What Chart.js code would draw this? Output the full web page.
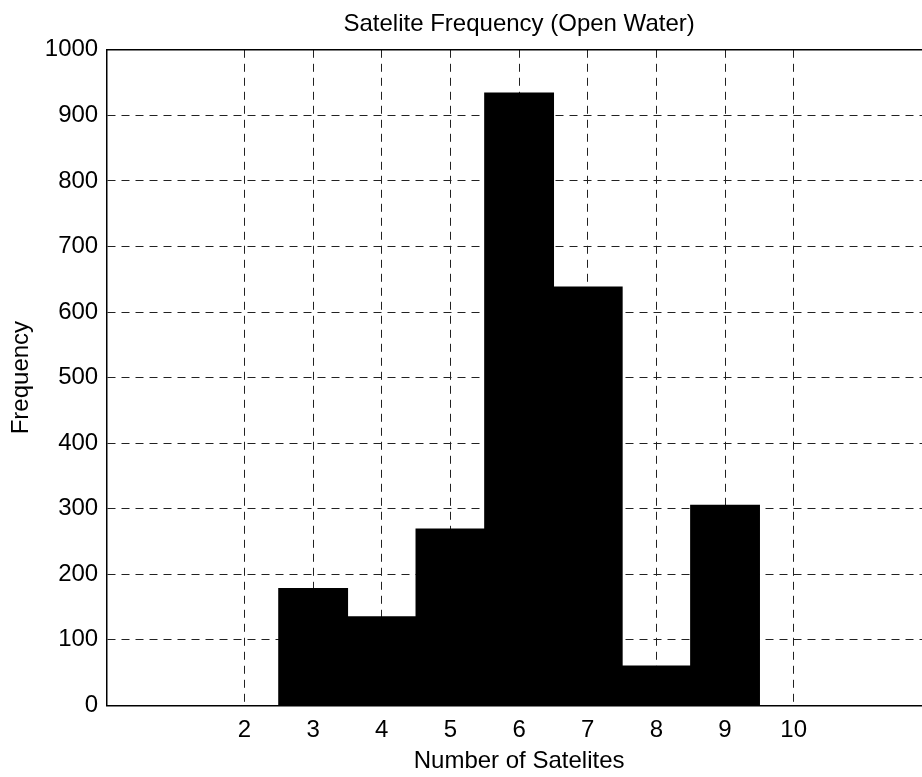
<!DOCTYPE html>
<html>
<head>
<meta charset="utf-8">
<script src="https://cdn.jsdelivr.net/npm/chart.js@4/dist/chart.umd.min.js"></script>
<style>
  html, body { margin: 0; padding: 0; background: #fff; overflow: hidden; }
  #wrap { width: 940px; height: 777px; }
</style>
</head>
<body>
<div id="wrap"><canvas id="chartSatelites"></canvas></div>
<script>
// datos del histograma
const satelites = [3, 4, 5, 6, 7, 8, 9];
const frecuencias = [178, 135, 269, 934, 638, 60, 305];
const ticksX = [2, 3, 4, 5, 6, 7, 8, 9, 10];
const ticksY = [0, 100, 200, 300, 400, 500, 600, 700, 800, 900, 1000];

const fuente = "'Liberation Sans', Arial, sans-serif";
const negro = '#000';

const context = document.getElementById('chartSatelites').getContext('2d');

const chartSatelites = new Chart(context, {
    type: 'bar',
    data: {
        datasets: [
            {
                label: 'Frequency',
                data: satelites.map((s, i) => ({ x: s, y: frecuencias[i] })),
                backgroundColor: negro,
                borderWidth: 0,
                inflateAmount: 0.6,
                barPercentage: 1,
                categoryPercentage: 1
            }
        ]
    },
    options: {
        responsive: true,
        maintainAspectRatio: false,
        animation: false,
        layout: { padding: { top: 10, right: 9, left: 7, bottom: 1 } },
        plugins: {
            legend: { display: false },
            tooltip: { enabled: false },
            title: {
                display: true,
                text: 'Satelite Frequency (Open Water)',
                fullSize: false,
                color: negro,
                font: { family: fuente, size: 24, weight: 'normal' },
                padding: { top: 0, bottom: 11 }
            }
        },
        scales: {
            x: {
                type: 'linear',
                min: 0,
                max: 12,
                offset: false,
                afterBuildTicks: (scale) => {
                    scale.ticks = ticksX.map(v => ({ value: v }));
                },
                grid: {
                    color: '#222',
                    lineWidth: 1,
                    offset: false,
                    drawTicks: false
                },
                border: { display: true, color: negro, width: 1.5, dash: [8, 6] },
                ticks: {
                    color: negro,
                    font: { family: fuente, size: 24 },
                    padding: 11,
                    maxRotation: 0,
                    autoSkip: false,
                    callback: (v) => String(v)
                },
                title: {
                    display: true,
                    text: 'Number of Satelites',
                    color: negro,
                    font: { family: fuente, size: 24 },
                    padding: { top: -9, bottom: 0 }
                }
            },
            xTop: {
                type: 'linear',
                position: 'top',
                min: 0,
                max: 12,
                grid: { display: false, drawTicks: false },
                ticks: { display: false },
                border: { display: true, color: negro, width: 1.5 }
            },
            y: {
                min: 0,
                max: 1000,
                afterBuildTicks: (scale) => {
                    scale.ticks = ticksY.map(v => ({ value: v }));
                },
                grid: {
                    color: '#222',
                    lineWidth: 1,
                    drawTicks: false
                },
                border: { display: true, color: negro, width: 1.5, dash: [8, 6] },
                ticks: {
                    color: negro,
                    font: { family: fuente, size: 24 },
                    padding: 9,
                    callback: (v) => String(v)
                },
                title: {
                    display: true,
                    text: 'Frequency',
                    color: negro,
                    font: { family: fuente, size: 24 },
                    padding: { top: 0, bottom: 0 }
                }
            }
        }
    }
});
</script>
</body>
</html>
